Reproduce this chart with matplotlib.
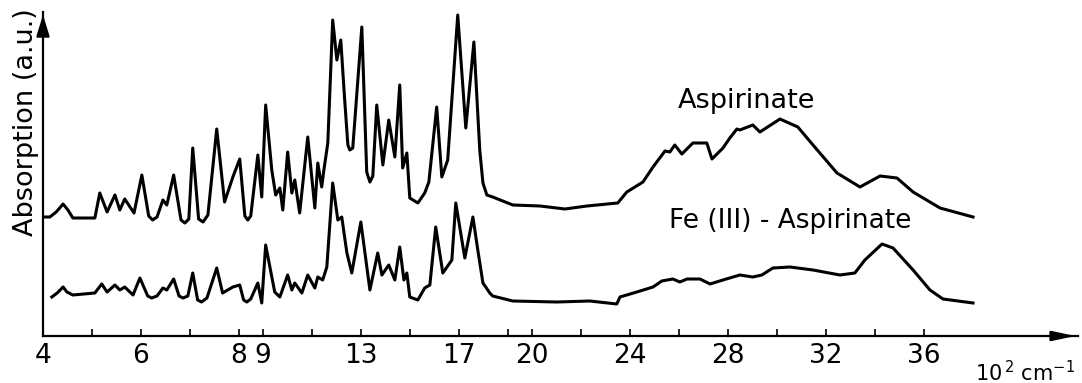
import numpy as np
import matplotlib
matplotlib.use("Agg")
import matplotlib.pyplot as plt

plt.rcParams['font.family'] = ['DejaVu Sans']
plt.rcParams['mathtext.fontset'] = 'dejavusans'

# wavenumber in 10^2 cm^-1, absorption in arbitrary units
asp_wn = [4.00, 4.14, 4.27, 4.41, 4.51, 4.61, 5.06, 5.16, 5.31, 5.47, 5.57, 5.67,
          5.86, 6.02, 6.16, 6.24, 6.33, 6.45, 6.53, 6.67, 6.82, 6.90, 6.98, 7.06,
          7.18, 7.27, 7.37, 7.55, 7.71, 7.88, 8.04, 8.25, 8.37, 8.49, 8.78, 8.94,
          9.10, 9.35, 9.51, 9.68, 9.80, 10.00, 10.17, 10.29, 10.49, 10.82, 11.11,
          11.23, 11.39, 11.48, 11.64, 11.84, 12.01, 12.17, 12.33, 12.46, 12.54, 12.66,
          13.03, 13.23, 13.36, 13.48, 13.64, 13.89, 14.13, 14.38, 14.58, 14.70, 14.87,
          14.99, 15.32, 15.60, 15.77, 16.09, 16.30, 16.54, 16.95, 17.28, 17.61, 17.85,
          17.98, 18.14, 18.38, 19.20, 20.31, 21.33, 22.23, 23.49, 23.86, 24.52, 24.93,
          25.42, 25.62, 25.82, 26.11, 26.56, 26.93, 27.13, 27.34, 27.79, 28.07, 28.36,
          28.48, 29.01, 29.30, 30.12, 30.85, 31.47, 32.45, 33.39, 34.21, 34.90, 35.56,
          36.66, 38.01]
asp_abs = [119, 119, 124, 132, 126, 118, 118, 143, 124, 141, 126, 137,
           123, 161, 120, 116, 119, 136, 131, 161, 116, 113, 117, 188,
           117, 114, 121, 207, 134, 159, 177, 120, 116, 120, 181, 139,
           231, 166, 141, 148, 126, 184, 143, 156, 123, 199, 128,
           173, 149, 166, 193, 316, 276, 296, 236, 191, 186, 188,
           309, 164, 154, 160, 231, 171, 216, 179, 251, 168, 183,
           138, 133, 143, 154, 229, 159, 176, 321, 208, 294, 186,
           153, 141, 139, 131, 130, 127, 130, 133, 144, 154, 169,
           185, 184, 191, 182, 193, 193, 193, 177, 188, 198, 207,
           206, 211, 204, 217, 209, 191, 163, 149, 160, 158, 144,
           128, 119]

fe_wn = [4.18, 4.29, 4.41, 4.49, 4.61, 5.06, 5.20, 5.31, 5.47, 5.57, 5.67, 5.84,
         5.98, 6.14, 6.22, 6.33, 6.45, 6.53, 6.67, 6.78, 6.86, 6.96, 7.06, 7.16,
         7.24, 7.35, 7.55, 7.67, 7.88, 8.04, 8.20, 8.33, 8.49, 8.78, 8.94, 9.10,
         9.47, 9.68, 10.00, 10.17, 10.29, 10.58, 10.82, 11.11, 11.23, 11.43, 11.60,
         11.84, 12.05, 12.21, 12.42, 12.62, 12.99, 13.36, 13.68, 13.85, 14.13, 14.38,
         14.58, 14.75, 14.87, 14.99, 15.32, 15.60, 15.81, 16.05, 16.34, 16.71, 16.87,
         17.24, 17.57, 17.77, 17.98, 18.26, 18.38, 19.20, 21.00, 22.35, 23.45, 23.58,
         24.27, 24.93, 25.29, 25.74, 26.03, 26.32, 26.85, 27.26, 27.79, 28.48, 29.01,
         29.38, 29.83, 30.53, 31.47, 32.57, 33.18, 33.59, 34.29, 34.74, 35.56, 36.25,
         36.78, 38.01]
fe_abs = [39, 43, 49, 44, 41, 43, 52, 44, 51, 46, 49, 41,
          58, 40, 38, 40, 48, 46, 57, 40, 38, 40, 63, 36,
          34, 38, 68, 43, 49, 51, 36, 34, 37, 53, 33, 91,
          44, 39, 61, 46, 53, 43, 61, 48, 59, 56, 69,
          153, 116, 119, 83, 63, 114, 46, 83, 61, 71, 56,
          89, 56, 63, 39, 36, 48, 51, 109, 63, 76, 133,
          78, 119, 86, 53, 43, 40, 35, 34, 35, 32, 39,
          44, 49, 55, 57, 54, 57, 57, 52, 56, 61, 59,
          61, 68, 69, 66, 61, 63, 76, 92, 88, 66, 46,
          37, 33]

major_ticks = [4, 6, 8, 9, 13, 17, 20, 24, 28, 32, 36]
minor_ticks = [5, 7, 11, 15, 19, 22, 26, 30, 34]


# the region below 800 cm^-1 is recorded on a doubled scale
def forward(x):
    x = np.asarray(x, dtype=float)
    return np.where(x < 8, 2 * (x - 8), x - 8)


def inverse(u):
    u = np.asarray(u, dtype=float)
    return np.where(u < 0, u / 2 + 8, u + 8)


fig = plt.figure(figsize=(10.82, 3.83), dpi=100)
ax = fig.add_axes([43 / 1082, 47 / 383, 1035 / 1082, 324 / 383])
ax.set_xscale('function', functions=(forward, inverse))

ax.plot(asp_wn, asp_abs, color='black', lw=2.2, solid_joinstyle='round')
ax.plot(fe_wn, fe_abs, color='black', lw=2.2, solid_joinstyle='round')

ax.set_xlim(4, 42.3)
ax.set_ylim(0, 324)

for side in ['top', 'right']:
    ax.spines[side].set_visible(False)
for side in ['left', 'bottom']:
    ax.spines[side].set_linewidth(1.6)

ax.set_xticks(major_ticks)
ax.set_xticklabels([str(t) for t in major_ticks])
ax.set_xticks(minor_ticks, minor=True)
ax.tick_params(axis='x', which='both', direction='in', length=5, width=1.2,
               pad=5, labelsize=19)
ax.set_yticks([])

# axis arrows
ax.annotate('', xy=(1.0, 0), xytext=(0.97, 0), xycoords='axes fraction',
            arrowprops=dict(arrowstyle='-|>,head_length=0.7,head_width=0.15',
                            color='black', lw=1.6, mutation_scale=20))
ax.annotate('', xy=(0, 1.0), xytext=(0, 0.93), xycoords='axes fraction',
            arrowprops=dict(arrowstyle='-|>,head_length=0.65,head_width=0.2',
                            color='black', lw=1.6, mutation_scale=20))

ax.text(-0.016, 0.66, 'Absorption (a.u.)', transform=ax.transAxes,
        rotation=90, ha='center', va='center', fontsize=19.5)
ax.text(0.9005, -0.139, r'$10^{\,2}\ \mathrm{cm}^{-1}$', transform=ax.transAxes,
        ha='left', va='baseline', fontsize=15)

ax.text(28.77, 228, 'Aspirinate', ha='center', va='baseline', fontsize=19.5)
ax.text(30.53, 108, 'Fe (III) - Aspirinate', ha='center', va='baseline', fontsize=19)

fig.savefig('out.png', dpi=100)
